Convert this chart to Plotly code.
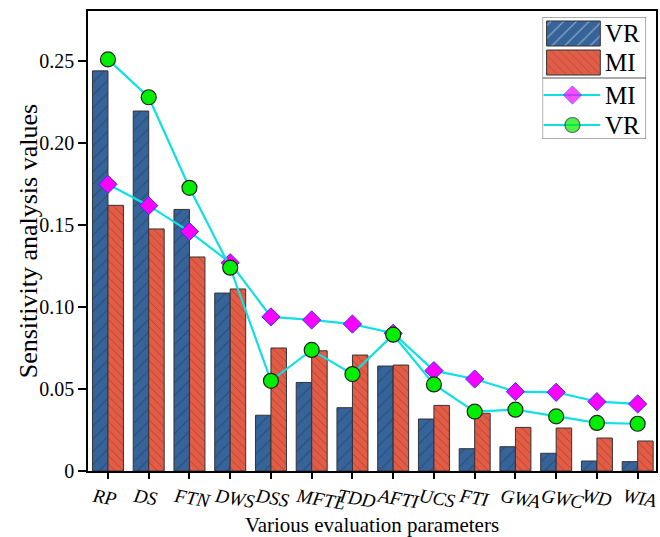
import plotly.graph_objects as go

# Evaluation parameters (x categories)
params = ["RP", "DS", "FTN", "DWS", "DSS", "MFTL", "TDD", "AFTI",
          "UCS", "FTI", "GWA", "GWC", "WD", "WIA"]

# Bar values
vr_bar = [0.244, 0.2195, 0.1595, 0.1085, 0.034, 0.054, 0.0386, 0.064,
          0.0317, 0.0136, 0.0148, 0.0108, 0.0061, 0.0057]
mi_bar = [0.162, 0.1476, 0.1305, 0.111, 0.075, 0.0733, 0.0707, 0.0646,
          0.040, 0.0352, 0.0266, 0.0262, 0.0201, 0.0183]

# Line values
mi_line = [0.1748, 0.1618, 0.146, 0.127, 0.094, 0.0921, 0.0896, 0.084,
           0.0612, 0.0561, 0.0484, 0.048, 0.0423, 0.0409]
vr_line = [0.251, 0.2279, 0.1727, 0.124, 0.055, 0.0738, 0.0591, 0.0831,
           0.0528, 0.0362, 0.0374, 0.0333, 0.0293, 0.0288]

# Y tick labels
y_ticks = [0, 0.05, 0.10, 0.15, 0.20, 0.25]
y_ticktext = ["0", "0.05", "0.10", "0.15", "0.20", "0.25"]

FONT = "Liberation Serif"
BLUE = "#36639a"
RED = "#e35c46"
CYAN = "#10e0e0"
EDGE = "#333333"

W, H = 660, 537
ML, MR, MT, MB = 88, 1, 11, 66

fig = go.Figure()

fig.add_trace(go.Bar(
    x=params, y=vr_bar, name="VR",
    marker=dict(color=BLUE, line=dict(color=EDGE, width=1),
                pattern=dict(shape="/", fgcolor="#1d3350", size=9, solidity=0.12)),
))
fig.add_trace(go.Bar(
    x=params, y=mi_bar, name="MI",
    marker=dict(color=RED, line=dict(color=EDGE, width=1),
                pattern=dict(shape="\\", fgcolor="#7a2a1c", size=6, solidity=0.15)),
))
fig.add_trace(go.Scatter(
    x=params, y=mi_line, name="MI", mode="lines+markers",
    line=dict(color=CYAN, width=2.2),
    marker=dict(symbol="diamond", size=14, color="#ff00ff",
                line=dict(color="#3030ff", width=1)),
))
fig.add_trace(go.Scatter(
    x=params, y=vr_line, name="VR", mode="lines+markers",
    line=dict(color=CYAN, width=2.2),
    marker=dict(symbol="circle", size=15, color="#00ee00",
                line=dict(color="#222222", width=1.2)),
))

# --- legend box, drawn on a helper axis pair measured in pixels ---
LX0, LX1, LY0, LY1 = 545, 649, 17, 139
fig.add_trace(go.Bar(
    orientation="h", xaxis="x2", yaxis="y2",
    y=[33.5, 62.5], x=[54, 54], base=[549, 549], width=[25, 25],
    marker=dict(color=[BLUE, RED], line=dict(color=EDGE, width=1),
                pattern=dict(shape=["/", "\\"], fgcolor=["#1d3350", "#7a2a1c"],
                             size=[9, 6], solidity=0.12)),
    hoverinfo="skip",
))
fig.add_trace(go.Scatter(
    xaxis="x2", yaxis="y2", x=[546, 575, 603], y=[95, 95, 95],
    mode="lines+markers", line=dict(color=CYAN, width=2.2),
    marker=dict(symbol="diamond", size=[0, 14, 0], color="#ff00ff",
                line=dict(color="#3030ff", width=1)),
    hoverinfo="skip",
))
fig.add_trace(go.Scatter(
    xaxis="x2", yaxis="y2", x=[546, 575, 603], y=[125, 125, 125],
    mode="lines+markers", line=dict(color=CYAN, width=2.2),
    marker=dict(symbol="circle", size=[0, 15, 0], color="#00ee00",
                line=dict(color="#222222", width=1.2)),
    hoverinfo="skip",
))

pw = W - ML - MR
ph = H - MT - MB
dx0 = (LX0 - ML) / pw
dx1 = (LX1 - ML) / pw
dy0 = (H - MB - LY1) / ph
dy1 = (H - MB - LY0) / ph

shapes = [
    dict(type="rect", xref="x2", yref="y2", x0=LX0, x1=LX1, y0=LY0, y1=LY1,
         line=dict(color="#555555", width=1), fillcolor="rgba(255,255,255,0)", layer="below"),
    dict(type="line", xref="x2", yref="y2", x0=LX0, x1=LX1, y0=78, y1=78,
         line=dict(color="#555555", width=1)),
]
annotations = [
    dict(xref="x2", yref="y2", x=606, y=yy, text=t, showarrow=False,
         xanchor="left", yanchor="middle", font=dict(family=FONT, size=25, color="black"))
    for yy, t in [(33.5, "VR"), (62.5, "MI"), (95, "MI"), (125, "VR")]
]
# y-axis title placed as rotated text left of the tick labels
annotations.append(dict(
    xref="paper", yref="paper", x=(28 - ML) / pw, y=0.5,
    text="Sensitivity analysis values", textangle=-90, showarrow=False,
    xanchor="center", yanchor="middle", font=dict(family=FONT, size=26, color="black"),
))

fig.update_layout(
    width=W, height=H,
    margin=dict(l=ML, r=MR, t=MT, b=MB),
    paper_bgcolor="white", plot_bgcolor="white",
    showlegend=False,
    barmode="group", bargap=0.24, bargroupgap=0,
    font=dict(family=FONT, color="black"),
    xaxis=dict(
        range=[-0.49, 13.45], showline=True, linecolor="black", linewidth=1.5,
        mirror=True, ticks="outside", ticklen=6, tickwidth=1.5, tickcolor="black",
        tickangle=10, ticklabelshift=-14,
        tickfont=dict(family=FONT, size=19, style="italic"),
        title=dict(text="Various evaluation parameters",
                   font=dict(family=FONT, size=21), standoff=8),
        showgrid=False, zeroline=False,
    ),
    yaxis=dict(
        range=[0, 0.2805], showline=True, linecolor="black", linewidth=1.5,
        mirror=True, ticks="outside", ticklen=8, tickwidth=1.5, tickcolor="black",
        tickvals=y_ticks, ticktext=y_ticktext,
        tickfont=dict(family=FONT, size=20),
        showgrid=False, zeroline=False,
    ),
    xaxis2=dict(domain=[dx0, dx1], range=[LX0, LX1], anchor="y2",
                visible=False, fixedrange=True),
    yaxis2=dict(domain=[dy0, dy1], range=[LY1, LY0], anchor="x2",
                visible=False, fixedrange=True),
    shapes=shapes,
    annotations=annotations,
)

fig.write_html("out.html")
